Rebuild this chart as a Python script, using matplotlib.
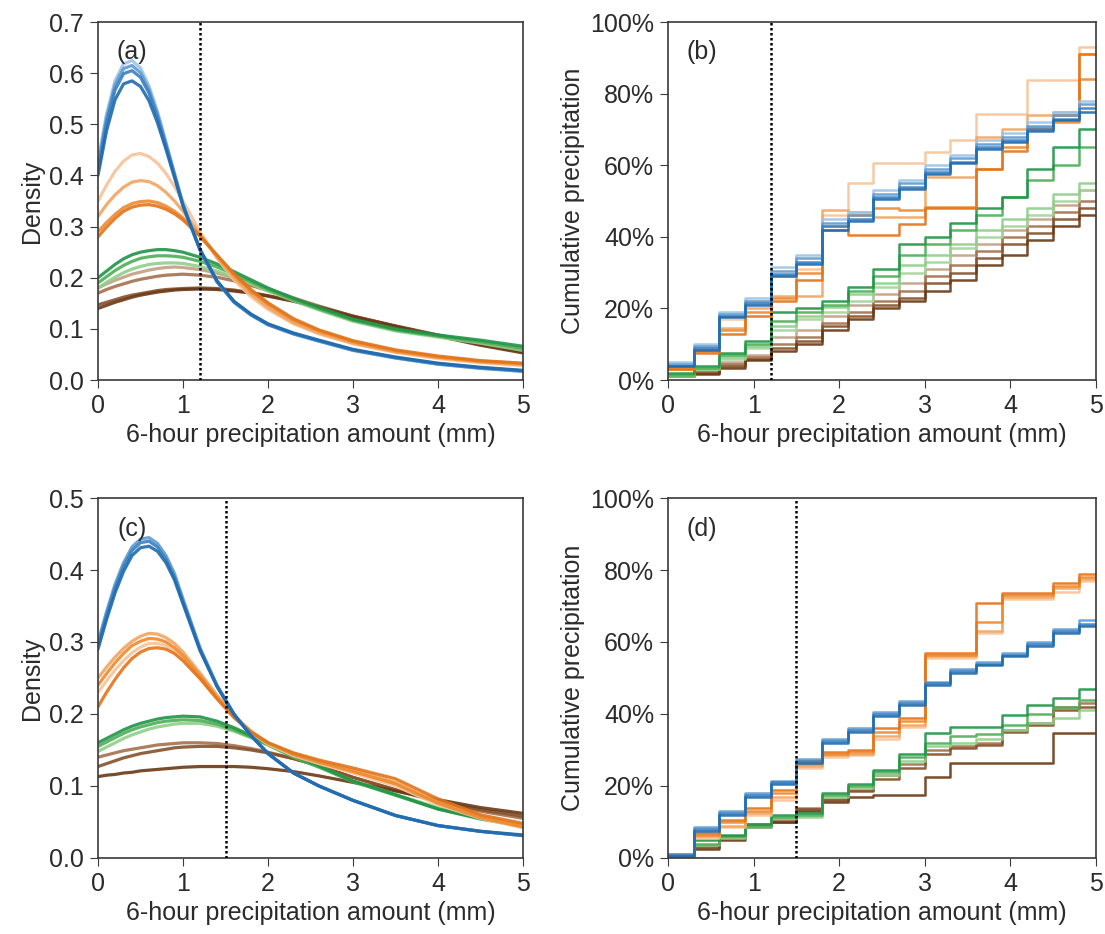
import matplotlib as mpl
import matplotlib.pyplot as plt
from matplotlib.ticker import MultipleLocator, PercentFormatter

mpl.rcParams.update(
    {
        "font.family": ["Liberation Sans", "DejaVu Sans"],
        "font.size": 18,
        "text.color": "#2b2b2b",
        "axes.labelcolor": "#2b2b2b",
        "axes.edgecolor": "#3a3a3a",
        "axes.linewidth": 1.2,
        "xtick.color": "#3a3a3a",
        "ytick.color": "#3a3a3a",
        "xtick.labelcolor": "#2b2b2b",
        "ytick.labelcolor": "#2b2b2b",
        "xtick.major.size": 6,
        "ytick.major.size": 6,
        "xtick.major.pad": 4,
        "ytick.major.pad": 4,
        "xtick.labelsize": 18,
        "ytick.labelsize": 18,
        "axes.labelsize": 18,
    }
)

# precipitation values (mm) where the density curves are sampled
PRECIP_GRID = [0.0, 0.1, 0.2, 0.3, 0.4, 0.5, 0.6, 0.7, 0.8, 0.9, 1.0, 1.2,
               1.4, 1.6, 1.8, 2.0, 2.3, 2.6, 3.0, 3.5, 4.0, 4.5, 5.0]

# left edges of the 0.3 mm bins used for the cumulative curves
BIN_LEFT = [0.0, 0.3, 0.6, 0.9, 1.2, 1.5, 1.8, 2.1, 2.4, 2.7, 3.0, 3.3, 3.6, 3.9, 4.2, 4.5, 4.8]
BIN_END = 5.0

THRESHOLD_TOP = 1.2
THRESHOLD_BOTTOM = 1.5

# ---- panel (a): density, light -> dark within each group
A_BLUE = [
    [0.430, 0.520, 0.585, 0.618, 0.625, 0.610, 0.575, 0.525, 0.465, 0.405, 0.345, 0.255,
     0.192, 0.152, 0.127, 0.108, 0.090, 0.076, 0.058, 0.043, 0.031, 0.023, 0.017],
    [0.420, 0.512, 0.577, 0.609, 0.615, 0.601, 0.568, 0.520, 0.462, 0.402, 0.343, 0.254,
     0.192, 0.152, 0.127, 0.108, 0.090, 0.076, 0.058, 0.043, 0.031, 0.023, 0.017],
    [0.410, 0.503, 0.567, 0.599, 0.605, 0.592, 0.561, 0.514, 0.458, 0.400, 0.342, 0.255,
     0.193, 0.153, 0.128, 0.109, 0.091, 0.077, 0.059, 0.044, 0.032, 0.024, 0.018],
    [0.400, 0.487, 0.548, 0.579, 0.585, 0.574, 0.546, 0.503, 0.451, 0.396, 0.340, 0.255,
     0.194, 0.154, 0.129, 0.110, 0.092, 0.078, 0.060, 0.045, 0.033, 0.025, 0.019],
]
A_ORANGE = [
    [0.350, 0.381, 0.408, 0.428, 0.440, 0.443, 0.437, 0.424, 0.404, 0.378, 0.350, 0.290,
     0.238, 0.196, 0.163, 0.138, 0.110, 0.090, 0.071, 0.054, 0.042, 0.034, 0.028],
    [0.320, 0.343, 0.362, 0.377, 0.387, 0.390, 0.388, 0.380, 0.367, 0.350, 0.330, 0.285,
     0.240, 0.200, 0.168, 0.142, 0.112, 0.092, 0.072, 0.055, 0.044, 0.035, 0.030],
    [0.290, 0.308, 0.324, 0.337, 0.345, 0.349, 0.350, 0.347, 0.340, 0.330, 0.317, 0.283,
     0.244, 0.206, 0.174, 0.148, 0.117, 0.096, 0.075, 0.057, 0.045, 0.037, 0.032],
    [0.280, 0.299, 0.316, 0.330, 0.338, 0.342, 0.343, 0.340, 0.334, 0.325, 0.313, 0.281,
     0.244, 0.208, 0.177, 0.151, 0.120, 0.098, 0.077, 0.059, 0.047, 0.038, 0.033],
]
A_GREEN = [
    [0.180, 0.191, 0.201, 0.210, 0.217, 0.222, 0.226, 0.228, 0.229, 0.229, 0.228, 0.222,
     0.213, 0.201, 0.188, 0.174, 0.155, 0.137, 0.115, 0.096, 0.084, 0.072, 0.058],
    [0.190, 0.202, 0.214, 0.224, 0.232, 0.238, 0.241, 0.243, 0.243, 0.242, 0.240, 0.232,
     0.221, 0.207, 0.192, 0.177, 0.157, 0.139, 0.117, 0.098, 0.086, 0.075, 0.062],
    [0.200, 0.213, 0.226, 0.237, 0.245, 0.250, 0.253, 0.255, 0.255, 0.253, 0.250, 0.240,
     0.227, 0.212, 0.196, 0.180, 0.160, 0.142, 0.119, 0.100, 0.088, 0.078, 0.066],
]
A_BROWN = [
    [0.180, 0.188, 0.195, 0.201, 0.207, 0.211, 0.215, 0.218, 0.220, 0.221, 0.220, 0.216,
     0.209, 0.200, 0.190, 0.178, 0.161, 0.145, 0.125, 0.105, 0.088, 0.072, 0.058],
    [0.170, 0.177, 0.183, 0.188, 0.193, 0.197, 0.200, 0.203, 0.205, 0.206, 0.207, 0.205,
     0.201, 0.194, 0.185, 0.175, 0.159, 0.144, 0.125, 0.105, 0.087, 0.070, 0.056],
    [0.147, 0.152, 0.157, 0.162, 0.166, 0.169, 0.172, 0.175, 0.177, 0.178, 0.179, 0.180,
     0.179, 0.176, 0.171, 0.165, 0.155, 0.143, 0.125, 0.106, 0.088, 0.070, 0.055],
    [0.140, 0.146, 0.152, 0.157, 0.162, 0.166, 0.169, 0.172, 0.174, 0.176, 0.177, 0.178,
     0.177, 0.174, 0.170, 0.164, 0.154, 0.142, 0.124, 0.105, 0.086, 0.068, 0.053],
]

# ---- panel (c): density
C_BLUE = [
    [0.300, 0.342, 0.380, 0.410, 0.432, 0.443, 0.445, 0.437, 0.420, 0.395, 0.360, 0.292,
     0.240, 0.200, 0.170, 0.145, 0.118, 0.100, 0.080, 0.059, 0.045, 0.037, 0.031],
    [0.295, 0.337, 0.375, 0.405, 0.427, 0.438, 0.440, 0.432, 0.415, 0.390, 0.356, 0.290,
     0.239, 0.200, 0.170, 0.145, 0.118, 0.100, 0.080, 0.059, 0.045, 0.037, 0.031],
    [0.290, 0.331, 0.368, 0.398, 0.420, 0.431, 0.433, 0.426, 0.410, 0.386, 0.353, 0.288,
     0.238, 0.199, 0.170, 0.145, 0.118, 0.100, 0.080, 0.059, 0.045, 0.037, 0.032],
]
C_ORANGE = [
    [0.230, 0.246, 0.261, 0.274, 0.285, 0.293, 0.298, 0.298, 0.295, 0.288, 0.277, 0.250,
     0.222, 0.196, 0.174, 0.158, 0.142, 0.131, 0.118, 0.100, 0.074, 0.055, 0.042],
    [0.250, 0.265, 0.279, 0.291, 0.301, 0.308, 0.312, 0.311, 0.306, 0.298, 0.286, 0.257,
     0.226, 0.198, 0.176, 0.160, 0.145, 0.134, 0.122, 0.105, 0.078, 0.058, 0.045],
    [0.240, 0.256, 0.271, 0.284, 0.295, 0.301, 0.305, 0.304, 0.300, 0.292, 0.281, 0.253,
     0.223, 0.196, 0.175, 0.160, 0.144, 0.133, 0.120, 0.103, 0.076, 0.056, 0.043],
    [0.210, 0.230, 0.248, 0.264, 0.277, 0.286, 0.291, 0.292, 0.290, 0.284, 0.274, 0.249,
     0.221, 0.195, 0.175, 0.160, 0.146, 0.136, 0.125, 0.110, 0.082, 0.060, 0.048],
]
C_GREEN = [
    [0.148, 0.154, 0.160, 0.166, 0.171, 0.175, 0.179, 0.182, 0.184, 0.186, 0.187, 0.187,
     0.183, 0.176, 0.167, 0.157, 0.141, 0.127, 0.107, 0.088, 0.070, 0.056, 0.046],
    [0.155, 0.161, 0.167, 0.173, 0.178, 0.182, 0.185, 0.188, 0.190, 0.191, 0.192, 0.191,
     0.186, 0.178, 0.168, 0.157, 0.140, 0.126, 0.106, 0.087, 0.068, 0.054, 0.044],
    [0.160, 0.166, 0.172, 0.178, 0.183, 0.187, 0.190, 0.193, 0.195, 0.196, 0.197, 0.196,
     0.190, 0.181, 0.170, 0.159, 0.142, 0.128, 0.107, 0.088, 0.068, 0.055, 0.045],
]
C_BROWN = [
    [0.140, 0.143, 0.146, 0.149, 0.151, 0.153, 0.155, 0.157, 0.158, 0.159, 0.160, 0.160,
     0.159, 0.156, 0.152, 0.147, 0.138, 0.128, 0.112, 0.094, 0.078, 0.065, 0.055],
    [0.127, 0.131, 0.135, 0.139, 0.142, 0.145, 0.147, 0.149, 0.151, 0.153, 0.154, 0.155,
     0.155, 0.153, 0.150, 0.146, 0.138, 0.128, 0.112, 0.095, 0.079, 0.067, 0.058],
    [0.113, 0.115, 0.116, 0.118, 0.119, 0.121, 0.122, 0.123, 0.124, 0.125, 0.126, 0.127,
     0.127, 0.127, 0.126, 0.124, 0.120, 0.114, 0.105, 0.093, 0.081, 0.070, 0.062],
]

# ---- panel (b): cumulative precipitation (%) per bin
B_BLUE = [
    [5.0, 10.0, 19.0, 23.0, 31.5, 35.0, 45.0, 47.0, 53.0, 56.0, 60.0, 63.0, 67.0, 69.0, 72.0, 75.0, 78.0],
    [4.5, 9.5, 18.5, 22.0, 30.5, 34.0, 44.0, 46.0, 52.0, 55.0, 59.0, 62.0, 66.0, 68.0, 71.0, 74.0, 77.0],
    [4.0, 9.0, 18.0, 21.5, 29.5, 33.0, 43.0, 45.0, 51.0, 54.0, 58.0, 61.0, 65.0, 67.0, 70.0, 73.0, 76.0],
    [4.0, 8.5, 17.5, 21.0, 29.0, 32.5, 42.0, 44.5, 50.5, 53.5, 57.5, 60.5, 64.5, 66.5, 69.5, 72.5, 75.0],
]
B_ORANGE = [
    [4.0, 9.0, 17.0, 22.0, 29.0, 31.0, 46.0, 55.0, 60.5, 60.5, 63.7, 67.0, 74.4, 74.4, 83.7, 83.7, 93.0],
    [3.5, 8.5, 14.5, 20.0, 23.5, 23.5, 47.4, 47.0, 45.5, 45.5, 56.7, 56.7, 68.0, 70.0, 74.0, 75.0, 91.0],
    [3.0, 8.0, 14.0, 19.0, 22.8, 30.0, 43.0, 46.0, 48.0, 47.4, 48.4, 48.4, 59.0, 65.0, 70.7, 72.0, 84.0],
    [3.0, 7.5, 13.0, 18.0, 22.0, 28.0, 42.0, 40.5, 40.5, 43.7, 48.0, 48.0, 59.0, 64.0, 70.0, 74.0, 91.0],
]
B_GREEN = [
    [1.2, 3.0, 6.0, 9.0, 14.0, 17.0, 19.0, 22.0, 26.0, 30.0, 33.0, 37.0, 40.0, 43.0, 46.0, 50.0, 53.0],
    [1.5, 3.0, 6.5, 9.5, 15.0, 18.0, 20.5, 24.0, 27.0, 32.0, 35.0, 38.0, 42.0, 45.0, 48.0, 52.0, 55.0],
    [1.5, 3.5, 7.0, 10.0, 16.5, 19.0, 21.0, 25.0, 29.0, 35.0, 38.0, 42.0, 46.0, 51.0, 56.0, 60.0, 65.0],
    [2.0, 4.0, 7.5, 11.0, 19.0, 20.0, 22.0, 26.0, 31.0, 38.0, 40.0, 44.0, 48.0, 51.0, 59.0, 65.0, 70.0],
]
B_BROWN = [
    [1.5, 2.5, 5.0, 7.0, 12.0, 14.0, 18.0, 21.0, 24.0, 27.0, 31.0, 35.0, 38.0, 42.0, 45.0, 49.0, 53.0],
    [1.2, 2.2, 4.5, 6.5, 10.0, 12.0, 16.0, 19.0, 22.0, 25.0, 29.0, 32.0, 36.0, 40.0, 43.0, 47.0, 50.0],
    [1.0, 2.0, 4.0, 6.0, 9.0, 11.0, 15.0, 18.0, 21.0, 23.0, 27.0, 30.0, 34.0, 38.0, 41.0, 45.0, 48.0],
    [1.0, 1.8, 3.5, 5.5, 8.0, 10.0, 14.0, 17.0, 20.0, 22.0, 25.0, 28.0, 32.0, 35.0, 39.0, 43.0, 46.0],
]

# ---- panel (d): cumulative precipitation (%) per bin
D_BLUE = [
    [1.0, 8.5, 13.0, 18.0, 21.5, 27.5, 33.0, 36.0, 40.5, 43.5, 49.0, 52.5, 54.5, 57.0, 60.0, 63.5, 66.0],
    [0.8, 8.0, 12.5, 17.5, 21.0, 27.0, 32.4, 35.5, 40.0, 43.0, 48.5, 52.0, 54.0, 56.5, 59.5, 63.0, 65.0],
    [0.6, 7.5, 12.0, 17.0, 20.5, 26.5, 32.0, 35.0, 39.5, 42.5, 48.0, 51.5, 53.5, 56.0, 59.0, 62.5, 64.5],
]
D_ORANGE = [
    [0.5, 5.5, 8.5, 12.0, 16.0, 25.0, 28.0, 28.5, 33.0, 36.5, 55.5, 55.5, 62.5, 72.0, 72.0, 74.0, 77.0],
    [0.6, 6.0, 9.0, 12.5, 17.0, 25.5, 28.5, 29.0, 34.0, 37.0, 56.0, 56.0, 63.0, 72.5, 72.5, 75.0, 77.5],
    [0.8, 6.5, 10.0, 13.0, 18.0, 26.0, 29.0, 29.5, 35.0, 38.0, 56.5, 56.5, 65.6, 73.0, 73.0, 75.5, 78.0],
    [1.0, 7.0, 10.5, 14.0, 19.0, 27.0, 29.5, 30.0, 36.0, 39.0, 57.0, 57.0, 70.7, 73.5, 73.5, 76.5, 79.0],
]
D_GREEN = [
    [0.3, 3.5, 5.5, 8.5, 11.0, 11.5, 17.0, 19.5, 23.0, 27.0, 31.0, 32.0, 33.0, 35.5, 37.4, 39.0, 41.0],
    [0.4, 4.0, 6.0, 9.0, 11.5, 12.0, 17.5, 20.0, 24.0, 28.0, 32.0, 34.0, 34.5, 37.0, 40.0, 42.0, 44.0],
    [0.5, 5.0, 6.5, 9.5, 12.0, 12.5, 18.0, 20.5, 24.5, 29.0, 34.6, 36.5, 36.5, 39.7, 42.5, 44.5, 47.0],
]
D_BROWN = [
    [0.5, 3.5, 6.0, 9.5, 10.5, 14.0, 16.5, 19.0, 23.0, 26.0, 30.0, 31.0, 32.0, 35.5, 37.5, 42.0, 43.0],
    [0.4, 3.0, 5.5, 9.0, 10.0, 13.5, 16.0, 18.5, 22.0, 25.0, 29.0, 30.5, 31.5, 35.0, 37.0, 41.0, 42.0],
    [0.3, 2.5, 5.0, 8.5, 10.0, 13.0, 15.5, 17.0, 17.5, 17.5, 22.6, 26.3, 26.3, 26.3, 26.3, 34.6, 34.6],
]

# colour ramps, light -> dark
BLUES = ["#9cc3e6", "#5f9bd2", "#3a80c2", "#1f6aad"]
ORANGES = ["#f6c49a", "#f2a460", "#ee8a2e", "#e2741b"]
GREENS = ["#a3d49c", "#8fcf8a", "#4fae57", "#1f9548"]
BROWNS = ["#c2a083", "#a4714e", "#84512b", "#6a3815"]


def ramp(colors: list[str], n: int) -> list[str]:
    # keep the darkest shades when a group has fewer curves than colours
    if n >= len(colors):
        return colors
    return colors[len(colors) - n:]


def finish_axes(ax, label: str) -> None:
    ax.xaxis.set_major_locator(MultipleLocator(1))
    ax.set_xlabel("6-hour precipitation amount (mm)")
    ax.text(0.08, 0.915, label, transform=ax.transAxes, ha="center", va="center", fontsize=18)


def draw_density(ax, groups, threshold: float, ymax: float, label: str) -> None:
    for curves, colors in groups:
        for values, color in zip(curves, ramp(colors, len(curves))):
            ax.plot(PRECIP_GRID, values, color=color, linewidth=2.3, alpha=0.9,
                    solid_joinstyle="round", solid_capstyle="round")
    ax.axvline(threshold, color="black", linestyle=(0, (1, 1)), linewidth=1.8, zorder=5)
    ax.set_xlim(0, 5)
    ax.set_ylim(0, ymax)
    ax.yaxis.set_major_locator(MultipleLocator(0.1))
    ax.yaxis.set_major_formatter(mpl.ticker.FormatStrFormatter("%.1f"))
    ax.set_ylabel("Density")
    finish_axes(ax, label)


def draw_cumulative(ax, groups, threshold: float, label: str) -> None:
    edges = BIN_LEFT + [BIN_END]
    for curves, colors in groups:
        for values, color in zip(curves, ramp(colors, len(curves))):
            ax.step(edges, values + [values[-1]], where="post", color=color, linewidth=1.8, alpha=0.9)
    ax.axvline(threshold, color="black", linestyle=(0, (1, 1)), linewidth=1.8, zorder=5)
    ax.set_xlim(0, 5)
    ax.set_ylim(0, 100)
    ax.yaxis.set_major_locator(MultipleLocator(20))
    ax.yaxis.set_major_formatter(PercentFormatter(decimals=0))
    ax.set_ylabel("Cumulative precipitation")
    finish_axes(ax, label)


def main() -> None:
    fig = plt.figure(figsize=(11.05, 9.34), dpi=100)
    ax_a = fig.add_axes([0.0887, 0.5931, 0.3846, 0.3833])
    ax_b = fig.add_axes([0.6045, 0.5931, 0.3873, 0.3833])
    ax_c = fig.add_axes([0.0887, 0.0814, 0.3846, 0.3854])
    ax_d = fig.add_axes([0.6045, 0.0814, 0.3873, 0.3854])

    draw_density(
        ax_a,
        [(A_BROWN, BROWNS), (A_GREEN, GREENS), (A_ORANGE, ORANGES), (A_BLUE, BLUES)],
        THRESHOLD_TOP, 0.7, "(a)",
    )
    draw_cumulative(
        ax_b,
        [(B_BROWN, BROWNS), (B_GREEN, GREENS), (B_ORANGE, ORANGES), (B_BLUE, BLUES)],
        THRESHOLD_TOP, "(b)",
    )
    draw_density(
        ax_c,
        [(C_BROWN, BROWNS), (C_GREEN, GREENS), (C_ORANGE, ORANGES), (C_BLUE, BLUES)],
        THRESHOLD_BOTTOM, 0.5, "(c)",
    )
    draw_cumulative(
        ax_d,
        [(D_BROWN, BROWNS), (D_GREEN, GREENS), (D_ORANGE, ORANGES), (D_BLUE, BLUES)],
        THRESHOLD_BOTTOM, "(d)",
    )

    fig.savefig("out.png", dpi=100, facecolor="white")
    plt.close(fig)


if __name__ == "__main__":
    main()
